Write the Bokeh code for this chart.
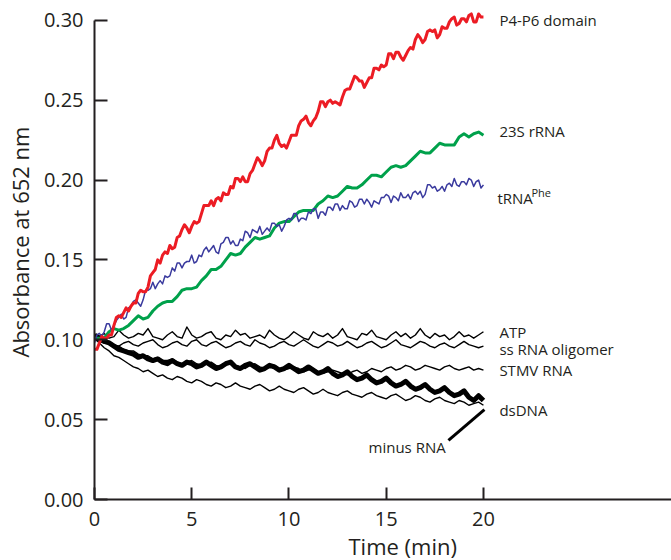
import numpy as np
from bokeh.plotting import figure
from bokeh.models import Label, FixedTicker, PrintfTickFormatter, Title
from bokeh.embed import file_html
from bokeh.resources import INLINE

FONT = "Open Sans"
INK = "#231f20"

# ---- data: absorbance at 652 nm, readings evenly spaced from 0 to 20 min ----
# P4-P6 domain and tRNA(Phe): one reading every 0.125 min; others every 0.25 min
p4p6_domain = [0.094, 0.094, 0.098, 0.102, 0.101, 0.101, 0.103, 0.103, 0.109, 0.114,
               0.115, 0.114, 0.117, 0.120, 0.118, 0.121, 0.123, 0.123, 0.129, 0.131,
               0.130, 0.130, 0.133, 0.140, 0.142, 0.144, 0.150, 0.148, 0.153, 0.155,
               0.154, 0.159, 0.157, 0.158, 0.164, 0.165, 0.169, 0.172, 0.170, 0.167,
               0.171, 0.174, 0.173, 0.174, 0.179, 0.184, 0.184, 0.184, 0.187, 0.184,
               0.188, 0.189, 0.187, 0.192, 0.191, 0.191, 0.196, 0.195, 0.201, 0.201,
               0.199, 0.202, 0.199, 0.199, 0.204, 0.206, 0.210, 0.214, 0.212, 0.209,
               0.212, 0.218, 0.220, 0.220, 0.225, 0.228, 0.223, 0.221, 0.222, 0.220,
               0.224, 0.228, 0.228, 0.228, 0.234, 0.237, 0.238, 0.240, 0.236, 0.234,
               0.237, 0.239, 0.243, 0.249, 0.249, 0.246, 0.249, 0.250, 0.248, 0.249,
               0.248, 0.247, 0.252, 0.256, 0.257, 0.257, 0.261, 0.265, 0.264, 0.262,
               0.262, 0.258, 0.261, 0.264, 0.264, 0.270, 0.270, 0.269, 0.272, 0.271,
               0.272, 0.279, 0.279, 0.276, 0.280, 0.280, 0.277, 0.275, 0.278, 0.281,
               0.283, 0.282, 0.288, 0.291, 0.289, 0.286, 0.288, 0.293, 0.294, 0.293,
               0.294, 0.289, 0.291, 0.296, 0.295, 0.295, 0.299, 0.301, 0.302, 0.297,
               0.298, 0.301, 0.301, 0.299, 0.303, 0.304, 0.299, 0.299, 0.304, 0.302,
               0.302]
trna_phe = [0.098, 0.103, 0.104, 0.102, 0.105, 0.110, 0.110, 0.106, 0.109, 0.112,
            0.114, 0.116, 0.113, 0.114, 0.120, 0.121, 0.124, 0.125, 0.123, 0.121,
            0.125, 0.131, 0.131, 0.132, 0.136, 0.132, 0.135, 0.137, 0.135, 0.140,
            0.139, 0.140, 0.145, 0.143, 0.148, 0.148, 0.145, 0.148, 0.149, 0.149,
            0.153, 0.148, 0.149, 0.153, 0.152, 0.156, 0.158, 0.155, 0.157, 0.159,
            0.155, 0.154, 0.160, 0.161, 0.164, 0.164, 0.160, 0.162, 0.159, 0.159,
            0.163, 0.162, 0.168, 0.167, 0.164, 0.169, 0.168, 0.167, 0.171, 0.166,
            0.168, 0.170, 0.168, 0.173, 0.173, 0.171, 0.172, 0.168, 0.171, 0.175,
            0.176, 0.175, 0.179, 0.179, 0.174, 0.176, 0.176, 0.175, 0.180, 0.179,
            0.182, 0.182, 0.176, 0.180, 0.180, 0.178, 0.183, 0.183, 0.181, 0.185,
            0.185, 0.181, 0.184, 0.182, 0.182, 0.187, 0.186, 0.183, 0.184, 0.188,
            0.188, 0.185, 0.188, 0.186, 0.183, 0.187, 0.186, 0.185, 0.189, 0.189,
            0.191, 0.190, 0.186, 0.190, 0.189, 0.187, 0.192, 0.189, 0.189, 0.191,
            0.188, 0.192, 0.193, 0.191, 0.193, 0.189, 0.191, 0.197, 0.197, 0.195,
            0.196, 0.193, 0.194, 0.196, 0.193, 0.197, 0.198, 0.196, 0.201, 0.197,
            0.196, 0.199, 0.199, 0.197, 0.201, 0.200, 0.196, 0.199, 0.200, 0.195,
            0.197]
rrna_23s = [0.101, 0.101, 0.101, 0.105, 0.107, 0.106, 0.107, 0.109, 0.112, 0.115,
            0.113, 0.114, 0.118, 0.121, 0.123, 0.124, 0.124, 0.127, 0.131, 0.132,
            0.132, 0.133, 0.137, 0.140, 0.144, 0.144, 0.146, 0.150, 0.154, 0.153,
            0.154, 0.158, 0.161, 0.164, 0.163, 0.164, 0.165, 0.170, 0.173, 0.174,
            0.174, 0.177, 0.180, 0.181, 0.181, 0.181, 0.185, 0.187, 0.190, 0.189,
            0.190, 0.193, 0.196, 0.195, 0.195, 0.197, 0.200, 0.203, 0.203, 0.202,
            0.205, 0.208, 0.209, 0.208, 0.209, 0.212, 0.215, 0.218, 0.217, 0.217,
            0.220, 0.223, 0.222, 0.222, 0.222, 0.227, 0.229, 0.227, 0.229, 0.230,
            0.228]
atp = [0.103, 0.102, 0.104, 0.101, 0.102, 0.106, 0.103, 0.101, 0.102, 0.104,
       0.103, 0.107, 0.102, 0.101, 0.100, 0.103, 0.105, 0.102, 0.101, 0.108,
       0.103, 0.101, 0.102, 0.104, 0.105, 0.101, 0.100, 0.103, 0.102, 0.106,
       0.103, 0.104, 0.101, 0.102, 0.103, 0.101, 0.106, 0.103, 0.101, 0.100,
       0.102, 0.105, 0.103, 0.101, 0.100, 0.105, 0.103, 0.102, 0.104, 0.101,
       0.103, 0.107, 0.102, 0.101, 0.100, 0.104, 0.103, 0.106, 0.102, 0.101,
       0.100, 0.103, 0.105, 0.102, 0.104, 0.101, 0.103, 0.107, 0.103, 0.101,
       0.104, 0.102, 0.103, 0.100, 0.102, 0.105, 0.102, 0.103, 0.101, 0.103,
       0.105]
ss_rna_oligomer = [0.100, 0.099, 0.098, 0.099, 0.097, 0.096, 0.098, 0.099, 0.097, 0.096,
                   0.098, 0.099, 0.100, 0.097, 0.095, 0.096, 0.098, 0.099, 0.097, 0.096,
                   0.099, 0.100, 0.097, 0.096, 0.098, 0.099, 0.097, 0.095, 0.096, 0.098,
                   0.099, 0.097, 0.096, 0.100, 0.098, 0.097, 0.095, 0.096, 0.098, 0.099,
                   0.097, 0.096, 0.098, 0.100, 0.098, 0.096, 0.095, 0.097, 0.099, 0.098,
                   0.096, 0.097, 0.099, 0.097, 0.095, 0.096, 0.098, 0.099, 0.097, 0.095,
                   0.096, 0.098, 0.100, 0.097, 0.096, 0.095, 0.097, 0.099, 0.098, 0.096,
                   0.095, 0.097, 0.098, 0.096, 0.095, 0.097, 0.099, 0.097, 0.096, 0.095,
                   0.096]
stmv_rna = [0.102, 0.100, 0.099, 0.098, 0.096, 0.096, 0.094, 0.093, 0.093, 0.091,
            0.090, 0.090, 0.088, 0.089, 0.087, 0.087, 0.088, 0.086, 0.085, 0.086,
            0.087, 0.085, 0.084, 0.085, 0.086, 0.084, 0.083, 0.085, 0.086, 0.084,
            0.083, 0.082, 0.084, 0.085, 0.083, 0.082, 0.083, 0.084, 0.082, 0.081,
            0.082, 0.083, 0.082, 0.080, 0.081, 0.082, 0.080, 0.079, 0.080, 0.081,
            0.080, 0.079, 0.078, 0.080, 0.081, 0.079, 0.080, 0.082, 0.081, 0.080,
            0.082, 0.083, 0.081, 0.082, 0.084, 0.083, 0.081, 0.082, 0.084, 0.083,
            0.082, 0.081, 0.083, 0.084, 0.082, 0.081, 0.082, 0.083, 0.081, 0.082,
            0.081]
minus_rna = [0.103, 0.101, 0.099, 0.098, 0.096, 0.094, 0.093, 0.092, 0.091, 0.089,
             0.090, 0.088, 0.087, 0.088, 0.086, 0.085, 0.087, 0.085, 0.084, 0.086,
             0.085, 0.083, 0.084, 0.086, 0.084, 0.082, 0.083, 0.085, 0.086, 0.083,
             0.082, 0.084, 0.085, 0.083, 0.081, 0.082, 0.084, 0.083, 0.081, 0.082,
             0.084, 0.082, 0.080, 0.081, 0.083, 0.081, 0.079, 0.080, 0.082, 0.079,
             0.077, 0.078, 0.080, 0.077, 0.075, 0.076, 0.078, 0.075, 0.073, 0.074,
             0.076, 0.073, 0.071, 0.072, 0.074, 0.071, 0.069, 0.070, 0.072, 0.069,
             0.067, 0.068, 0.070, 0.067, 0.065, 0.066, 0.068, 0.064, 0.062, 0.065,
             0.062]
dsdna = [0.101, 0.098, 0.095, 0.093, 0.090, 0.089, 0.087, 0.085, 0.083, 0.082,
         0.080, 0.081, 0.079, 0.077, 0.078, 0.076, 0.075, 0.077, 0.076, 0.074,
         0.073, 0.075, 0.074, 0.072, 0.071, 0.073, 0.072, 0.070, 0.071, 0.073,
         0.071, 0.070, 0.069, 0.071, 0.072, 0.070, 0.068, 0.069, 0.071, 0.069,
         0.068, 0.067, 0.069, 0.070, 0.068, 0.066, 0.067, 0.069, 0.067, 0.066,
         0.065, 0.067, 0.068, 0.066, 0.065, 0.064, 0.066, 0.067, 0.065, 0.064,
         0.063, 0.065, 0.066, 0.064, 0.062, 0.063, 0.065, 0.064, 0.062, 0.061,
         0.063, 0.064, 0.062, 0.061, 0.060, 0.062, 0.061, 0.059, 0.060, 0.061,
         0.059]

x_ticks = [0, 5, 10, 15, 20]
y_ticks = [0.00, 0.05, 0.10, 0.15, 0.20, 0.25, 0.30]
x_title = "Time (min)"
y_title = "Absorbance at 652 nm"

# series label text and the (time, absorbance) of each label's left-middle point
series_labels = [
    ("P4-P6 domain", 20.82, 0.3004),
    ("23S rRNA", 20.82, 0.2307),
    ("tRNA", 20.72, 0.1886),
    ("ATP", 20.82, 0.1048),
    ("ss RNA oligomer", 20.82, 0.0942),
    ("STMV RNA", 20.82, 0.0810),
    ("dsDNA", 20.82, 0.0562),
    ("minus RNA", 14.09, 0.0326),
]
superscript = ("Phe", 22.47, 0.1925)
pointer_t = [18.2, 20.05]
pointer_a = [0.0370, 0.0562]


def times(vals):
    return np.linspace(0, 20, len(vals))


p = figure(width=671, height=560, x_range=(0, 29.67), y_range=(0, 0.3124),
           output_backend="svg", toolbar_location=None,
           min_border_left=94, min_border_right=0, min_border_top=0, min_border_bottom=0)
p.outline_line_color = None
p.xgrid.visible = False
p.ygrid.visible = False

for ax in (p.xaxis[0], p.yaxis[0]):
    ax.axis_line_color = INK
    ax.axis_line_width = 2
    ax.major_tick_line_color = INK
    ax.major_tick_line_width = 2
    ax.major_tick_out = 0
    ax.minor_tick_line_color = None
    ax.major_label_text_font = FONT
    ax.major_label_text_font_size = "20px"
    ax.major_label_text_color = INK

p.xaxis.ticker = FixedTicker(ticks=x_ticks)
p.xaxis.major_tick_in = 12
p.xaxis.major_label_standoff = 12

p.yaxis.ticker = FixedTicker(ticks=y_ticks)
p.yaxis.formatter = PrintfTickFormatter(format="%.2f")
p.yaxis.major_tick_in = 13
p.yaxis.major_label_standoff = 11
p.yaxis.bounds = (0, 0.30)

# axis titles as side-panel titles so they can be placed along the axes
p.add_layout(Title(text=y_title, align="left", offset=142, vertical_align="top", standoff=8,
                   text_font=FONT, text_font_size="22px", text_font_style="normal",
                   text_color=INK), "left")
p.add_layout(Title(text=x_title, align="left", offset=254, vertical_align="bottom", standoff=0,
                   text_font=FONT, text_font_size="22px", text_font_style="normal",
                   text_color=INK), "below")

# black control traces first, coloured traces on top
thin = 1.4
p.line(times(atp), atp, line_color="black", line_width=thin, line_join="round")
p.line(times(ss_rna_oligomer), ss_rna_oligomer, line_color="black", line_width=thin, line_join="round")
p.line(times(stmv_rna), stmv_rna, line_color="black", line_width=thin, line_join="round")
p.line(times(dsdna), dsdna, line_color="black", line_width=thin, line_join="round")
p.line(times(minus_rna), minus_rna, line_color="black", line_width=5, line_join="round")

p.line(times(rrna_23s), rrna_23s, line_color="#00a14b", line_width=3, line_join="round")
p.line(times(trna_phe), trna_phe, line_color="#3a3a9e", line_width=1.5, line_join="round")
p.line(times(p4p6_domain), p4p6_domain, line_color="#ec1c24", line_width=3, line_join="round")

p.line(pointer_t, pointer_a, line_color="black", line_width=3)

for txt, tx, ty in series_labels:
    p.add_layout(Label(x=tx, y=ty, text=txt, text_font=FONT, text_font_size="15px",
                       text_color=INK, text_baseline="middle", text_align="left"))
p.add_layout(Label(x=superscript[1], y=superscript[2], text=superscript[0], text_font=FONT,
                   text_font_size="11px", text_color=INK, text_baseline="middle"))

open("out.html", "w").write(file_html(p, INLINE))
